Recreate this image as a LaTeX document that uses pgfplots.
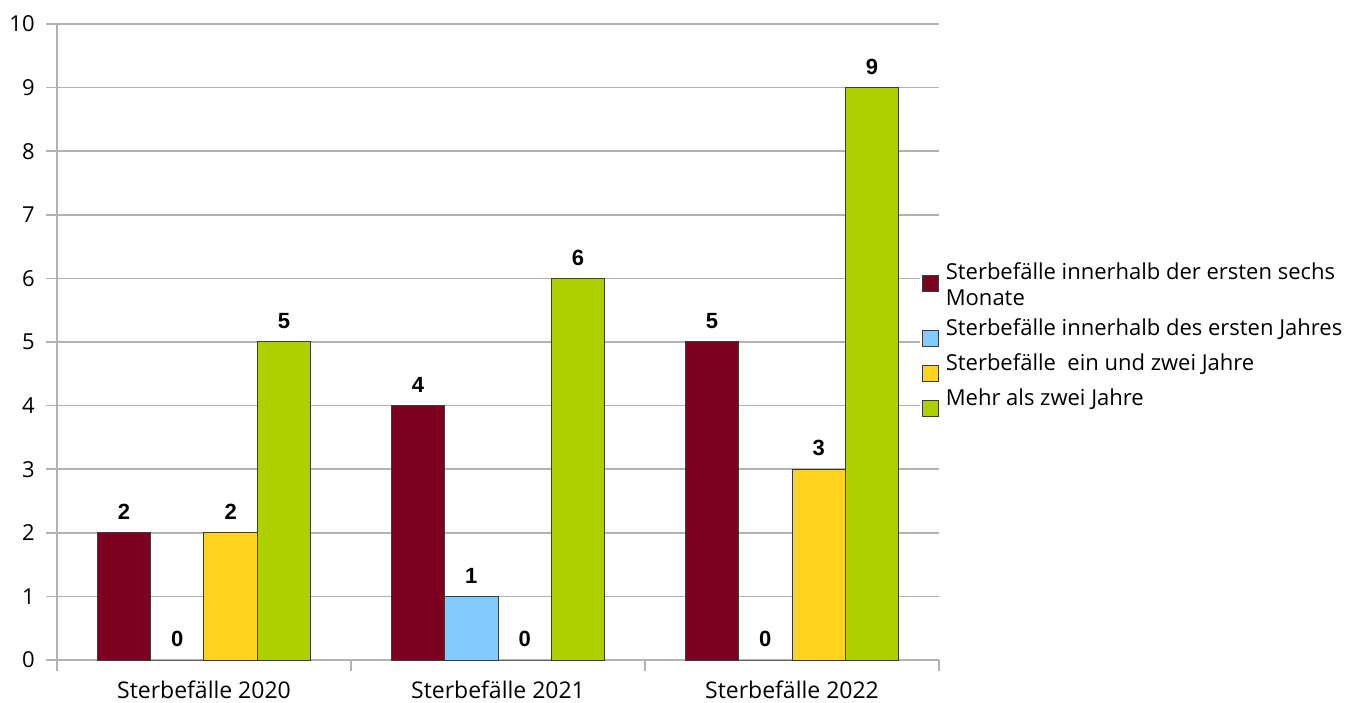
\documentclass[border=0pt]{standalone}
\usepackage{pgfplots}
\pgfplotsset{compat=1.18}
\usepackage{fontspec}
\setmainfont{Open Sans}
\newfontfamily\valuefont{Liberation Sans}

\definecolor{bordeaux}{HTML}{7E0021}
\definecolor{himmel}{HTML}{83CAFF}
\definecolor{gold}{HTML}{FFD320}
\definecolor{gruen}{HTML}{AECF00}
\definecolor{gitter}{HTML}{B3B3B3}
\definecolor{rand}{HTML}{3A3A3A}

% square legend key, sitting a little below the first text line
\pgfplotsset{
  kasten/.style={
    legend image code/.code={
      \path (0pt,0pt);
      \draw[##1, draw=rand, line width=0.5pt] (1pt,-17pt) rectangle (9pt,-9pt);
    }
  }
}

\begin{document}
\begin{tikzpicture}
\begin{axis}[
  scale only axis,
  width=441pt, height=318pt,
  xmin=-0.5, xmax=2.5,
  ymin=0, ymax=10,
  ytick={0,1,...,10},
  xtick={0,1,2},
  xticklabels={Sterbefälle 2020, Sterbefälle 2021, Sterbefälle 2022},
  minor xtick={-0.5,0.5,1.5,2.5},
  axis x line=bottom, axis y line=left,
  axis line style={draw=gitter, line width=0.75pt, -},
  tick align=outside,
  major tick length=5.5pt, minor tick length=5.5pt,
  tick style={draw=gitter, line width=0.75pt},
  major x tick style={draw=none},
  ymajorgrids,
  grid style={draw=gitter, line width=0.75pt},
  /pgf/number format/assume math mode=true,
  ticklabel style={inner sep=0pt},
  yticklabel style={anchor=east, xshift=-5.5pt, font=\fontsize{11}{13}\selectfont},
  xticklabel style={anchor=base, yshift=-13.5pt, font=\fontsize{11.5}{13}\selectfont},
  ybar=0pt,
  bar width=0.1816,
  nodes near coords,
  every node near coord/.append style={
    font=\valuefont\bfseries\fontsize{11}{13}\selectfont,
    anchor=south, inner sep=0pt, yshift=6.3pt, text=black},
  legend cell align=left,
  legend style={
    at={(0.9785,0.635)}, anchor=north west,
    fill=white, draw=none, inner sep=0pt,
    font=\fontsize{11}{13}\selectfont,
    row sep=0pt, column sep=1.2pt,
    cells={anchor=north west, align=left, inner sep=0pt},
  },
  clip=false,
]
\addplot[fill=bordeaux, draw=rand, line width=0.5pt, kasten]
  coordinates {(0,2) (1,4) (2,5)};
\addplot[fill=himmel, draw=rand, line width=0.5pt, kasten]
  coordinates {(0,0) (1,1) (2,0)};
\addplot[fill=gold, draw=rand, line width=0.5pt, kasten]
  coordinates {(0,2) (1,0) (2,3)};
\addplot[fill=gruen, draw=rand, line width=0.5pt, kasten]
  coordinates {(0,5) (1,6) (2,9)};
\legend{{\rule{0pt}{9pt}Sterbefälle innerhalb der ersten sechs\\Monate\rule[-9pt]{0pt}{9pt}},
        {\rule{0pt}{9pt}Sterbefälle innerhalb des ersten Jahres\rule[-7.5pt]{0pt}{7.5pt}},
        {\rule{0pt}{9pt}Sterbefälle\ \ ein und zwei Jahre\rule[-7.5pt]{0pt}{7.5pt}},
        {\rule{0pt}{9pt}Mehr als zwei Jahre\rule[-7.5pt]{0pt}{7.5pt}}}
\coordinate (ll) at (rel axis cs:0,0);
\end{axis}
\path (ll) ++(-28.5pt,-21pt) rectangle ++(677pt,351pt);
\end{tikzpicture}
\end{document}
